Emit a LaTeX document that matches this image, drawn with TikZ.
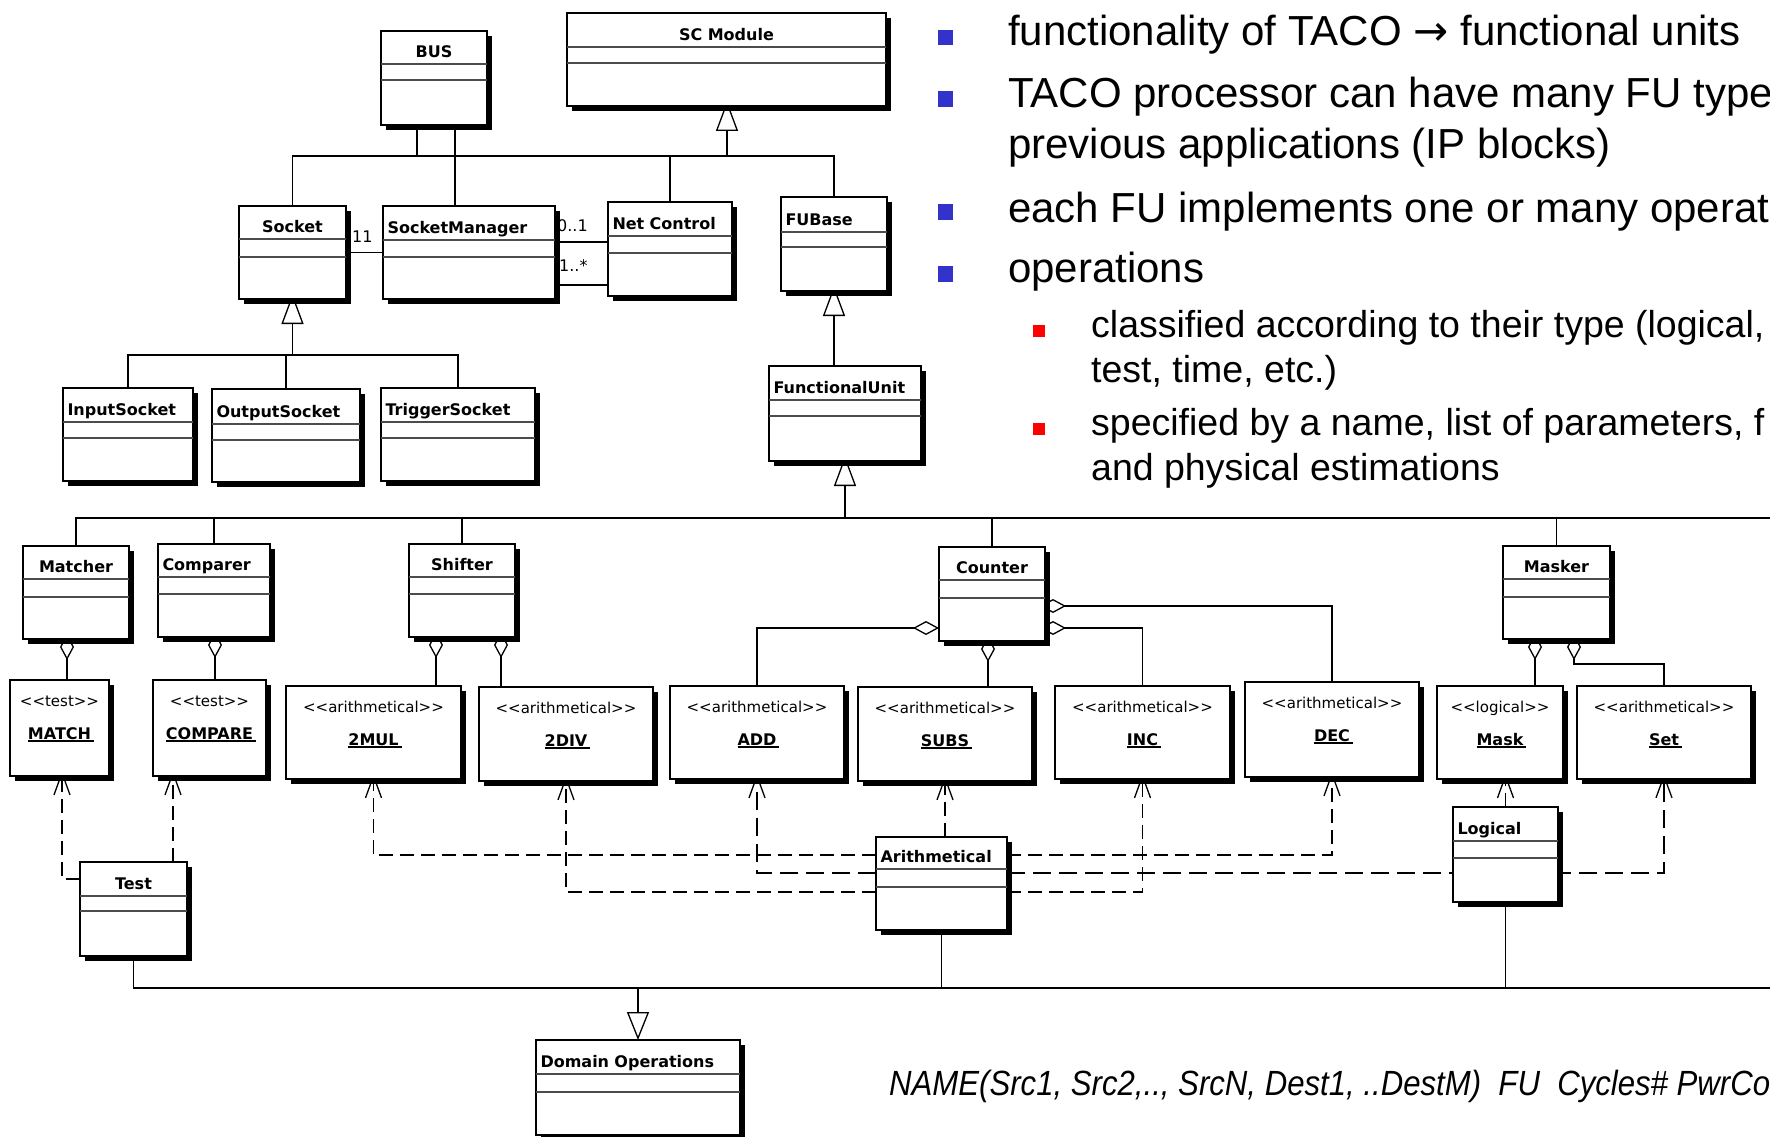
\documentclass[tikz,border=0pt]{standalone}
\usepackage{fontspec}
\setmainfont{Liberation Sans}
\newfontfamily\umlfont{DejaVu Sans}
\newfontfamily\formulafont[FakeStretch=0.89]{Liberation Sans}
\usetikzlibrary{arrows.meta,shadows}
\pgfdeclarelayer{back}
\pgfdeclarelayer{wires}
\pgfsetlayers{back,wires,main}

\definecolor{bulletblue}{RGB}{51,51,204}
\definecolor{bulletred}{RGB}{255,0,0}

% underlined operation name with a thick rule
\newcommand\opul[1]{\setbox0\hbox{#1\kern3pt}\rlap{\rule[-2.5pt]{\wd0}{1.5pt}}\box0}
% stereotype brackets kept as plain << >>
\newcommand\stereo[1]{<\kern0pt<#1>\kern0pt>}

\tikzset{
  cls/.style={draw, line width=1.8pt, fill=white, anchor=north west, inner sep=0pt, outer sep=0pt,
    drop shadow={shadow xshift=5pt, shadow yshift=-5pt, fill=black, opacity=1}},
  divider/.style={line width=1.1pt, black!70},
  clstitle/.style={font=\umlfont\bfseries\fontsize{16}{19}\selectfont, inner sep=0pt, anchor=base},
  stereotext/.style={font=\umlfont\fontsize{15}{18}\selectfont, inner sep=0pt, anchor=base},
  optext/.style={font=\umlfont\bfseries\fontsize{16}{19}\selectfont, inner sep=0pt, anchor=base},
  mult/.style={font=\umlfont\fontsize{16}{19}\selectfont, inner sep=0pt, anchor=base west},
  wire/.style={line width=1.5pt},
  thinwire/.style={line width=1pt},
  gen/.style={wire, -{Triangle[open, length=30pt, width=22pt, line width=1.3pt]}, shorten >=-5pt},
  gendown/.style={wire, -{Triangle[open, length=28pt, width=22pt, line width=1.3pt]}},
  agg/.style={wire, -{Diamond[fill=white, length=26pt, width=14pt, line width=1.3pt]}, shorten >=-5pt},
  aggside/.style={wire, -{Diamond[fill=white, length=26pt, width=14pt, line width=1.3pt]}},
  dep/.style={line width=1.3pt, dash pattern=on 14pt off 7pt,
    -{Straight Barb[length=22pt, width=16pt, line width=1.3pt]}, shorten >=-5pt},
  depbold/.style={dep, line width=2.2pt, dash pattern=on 18pt off 8pt},
  bullettext/.style={font=\fontsize{42}{50}\selectfont, inner sep=0pt, anchor=base west},
  subtext/.style={font=\fontsize{37.5}{45}\selectfont, inner sep=0pt, anchor=base west},
  formula/.style={font=\formulafont\itshape\fontsize{35}{42}\selectfont, inner sep=0pt, anchor=base west},
}

% class box: alignment, name, x1, y1, x2, y2, first divider, second divider, title
\newcommand\umlclass[9]{%
  \pgfmathsetmacro\clsW{#5-#3}%
  \pgfmathsetmacro\clsH{#6-#4}%
  \pgfmathsetmacro\clsT{#5-#3-9}%
  \node[cls, minimum width=\clsW pt, minimum height=\clsH pt] (#2) at (#3,#4) {};
  \draw[divider] (#3,#7) -- (#5,#7) (#3,#8) -- (#5,#8);
  \node[clstitle, text width=\clsT pt, align=#1] (#2-title) at ({(#3+#5)/2},{#7-6.5}) {#9};
}

% operation object: name, x1, y1, x2, y2, stereotype, operation
\newcommand\umlop[7]{%
  \pgfmathsetmacro\clsW{#4-#2}%
  \pgfmathsetmacro\clsH{#5-#3}%
  \node[cls, minimum width=\clsW pt, minimum height=\clsH pt] (#1) at (#2,#3) {};
  \node[stereotext] (#1-st) at ({(#2+#4)/2},{#3+26}) {\stereo{#6}};
  \node[optext] (#1-nm) at ({(#2+#4)/2+1.5},{#3+59}) {\opul{#7}};
}

\begin{document}
\begin{tikzpicture}[x=1pt, y=-1pt]
\useasboundingbox (0,0) rectangle (1770,1137);
\begin{pgfonlayer}{back}
  \fill[white] (0,0) rectangle (1770,1137);
\end{pgfonlayer}
\clip (0,0) rectangle (1770,1137);

% ---------- module / socket hierarchy ----------
\umlclass{center}{bus}{381}{31}{487}{125}{64}{80}{BUS}
\umlclass{center}{scmod}{567}{13}{886}{106}{47}{63}{SC Module}
\umlclass{center}{socket}{239}{206}{346}{299}{239}{257}{Socket}
\umlclass{left}{sockmgr}{383}{206}{555}{299}{240}{257}{SocketManager}
\umlclass{left}{netctl}{608}{202}{732}{296}{236}{253}{Net Control}
\umlclass{left}{fubase}{781}{197}{887}{291}{232}{247}{FUBase}
\umlclass{left}{funit}{769}{366}{921}{461}{400}{416}{FunctionalUnit}
\umlclass{left}{insock}{63}{388}{193}{481}{422}{438}{InputSocket}
\umlclass{left}{outsock}{212}{389}{360}{482}{424}{440}{OutputSocket}
\umlclass{left}{trigsock}{381}{388}{535}{481}{422}{438}{TriggerSocket}

% ---------- functional units ----------
\umlclass{center}{matcher}{23}{546}{129}{639}{579}{597}{Matcher}
\umlclass{left}{comparer}{158}{544}{270}{637}{577}{594}{Comparer}
\umlclass{center}{shifter}{409}{544}{515}{637}{577}{594}{Shifter}
\umlclass{center}{counter}{939}{547}{1045}{641}{580}{598}{Counter}
\umlclass{center}{masker}{1503}{546}{1610}{639}{579}{597}{Masker}

% ---------- operations ----------
\umlop{match}{10}{680}{109}{776}{test}{MATCH}
\umlop{compare}{153}{680}{266}{776}{test}{COMPARE}
\umlop{mul}{286}{686}{461}{779}{arithmetical}{2MUL}
\umlop{div}{479}{687}{653}{781}{arithmetical}{2DIV}
\umlop{add}{670}{686}{844}{779}{arithmetical}{ADD}
\umlop{subs}{858}{687}{1032}{781}{arithmetical}{SUBS}
\umlop{inc}{1055}{686}{1230}{779}{arithmetical}{INC}
\umlop{dec}{1245}{682}{1419}{777}{arithmetical}{DEC}
\umlop{mask}{1437}{686}{1563}{779}{logical}{Mask}
\umlop{set}{1577}{686}{1751}{779}{arithmetical}{Set}

% ---------- operation domains ----------
\umlclass{center}{test}{80}{862}{187}{956}{896}{911}{Test}
\umlclass{left}{arith}{876}{837}{1007}{930}{869}{887}{Arithmetical}
\umlclass{left}{logical}{1453}{807}{1558}{902}{841}{858}{Logical}
\umlclass{left}{domops}{536}{1040}{740}{1135}{1074}{1092}{Domain Operations}

% ---------- multiplicities ----------
\node[mult] (m-sock) at (352,242) {11};
\node[mult] (m-zero) at (557,231) {0..1};
\node[mult] (m-many) at (559,271) {1..*};

% ---------- junction points ----------
\coordinate (hubA) at (727,156);
\coordinate (busL) at ([xshift=-17pt]bus.south);
\coordinate (busR) at ([xshift=21pt]bus.south);
\coordinate (hubS) at (socket.south |- 0,355);
\coordinate (hubF) at (funit.south |- 0,518);
\coordinate (hubFend) at (1775,518);
\coordinate (hubD) at (domops.north |- 0,988);
\coordinate (hubDend) at (1775,988);
\coordinate (setbend) at (1574,664);

\begin{pgfonlayer}{wires}
  % generalisation to SC Module
  \draw[wire] (socket.north) |- (hubA) -| (fubase.north);
  \draw[wire] (netctl.north) |- (hubA);
  \draw[wire] (busL) |- (hubA);
  \draw[wire] (busR) -- (busR |- sockmgr.north);
  \draw[gen] (hubA) -- (hubA |- scmod.south);
  % associations
  \draw[wire] (socket.east) -- (socket.east -| sockmgr.west);
  \draw[wire] (sockmgr.east |- 0,242) -- (netctl.west |- 0,242);
  \draw[wire] (sockmgr.east |- 0,285) -- (netctl.west |- 0,285);
  % socket kinds
  \draw[gen] (hubS) -- (socket.south);
  \draw[wire] (insock.north) |- (hubS) -| (trigsock.north);
  \draw[wire] (outsock.north) -- (outsock.north |- hubS);
  % functional unit chain
  \draw[gen] (fubase.south |- funit.north) -- (fubase.south);
  \draw[gen] (hubF) -- (funit.south);
  \draw[wire] (matcher.north) |- (hubFend);
  \draw[wire] (comparer.north) -- (comparer.north |- hubF);
  \draw[wire] (shifter.north) -- (shifter.north |- hubF);
  \draw[wire] (counter.north) -- (counter.north |- hubF);
  \draw[thinwire] (masker.north) -- (masker.north |- hubF);
  % aggregations
  \draw[agg] (match.north -| 67,0) -- (matcher.south -| 67,0);
  \draw[agg] (compare.north -| 215,0) -- (comparer.south -| 215,0);
  \draw[agg] (mul.north -| 436,0) -- (shifter.south -| 436,0);
  \draw[agg] (div.north -| 501,0) -- (shifter.south -| 501,0);
  \draw[aggside] (add.north) |- (counter.west |- 0,628);
  \draw[agg] (subs.north -| 988,0) -- (counter.south -| 988,0);
  \draw[agg] (inc.north) |- (counter.east |- 0,628);
  \draw[agg] (dec.north) |- (counter.east |- 0,606);
  \draw[agg] (mask.north -| 1535,0) -- (masker.south -| 1535,0);
  \draw[agg] (set.north) |- (setbend) -- (masker.south -| setbend);
  % dependencies
  \draw[dep] (test.west |- 0,879) -| (match.south -| 62,0);
  \draw[dep] (test.north -| 173,0) -- (compare.south -| 173,0);
  \draw[dep] (arith.west |- 0,855) -| (mul.south);
  \draw[dep] (arith.west |- 0,892) -| (div.south);
  \draw[depbold] (arith.west |- 0,873) -| (add.south);
  \draw[dep] (arith.north -| subs.south) -- (subs.south);
  \draw[dep] (arith.east |- 0,892) -| (inc.south);
  \draw[dep] (arith.east |- 0,855) -| (dec.south);
  \draw[depbold] (arith.east |- 0,873) -| (set.south);
  \draw[dep] (logical.north) -- (logical.north |- mask.south);
  % generalisation to Domain Operations
  \draw[gendown] (hubD) -- (domops.north);
  \draw[wire] (test.south) |- (hubDend);
  \draw[wire] (arith.south) -- (arith.south |- hubD);
  \draw[wire] (logical.south) -- (logical.south |- hubD);
\end{pgfonlayer}

% ---------- bullet list ----------
\fill[bulletblue] (938,30) rectangle (953,45);
\fill[bulletblue] (938,91) rectangle (953,107);
\fill[bulletblue] (938,204) rectangle (953,220);
\fill[bulletblue] (938,266) rectangle (953,282);
\fill[bulletred] (1033,325) rectangle (1045,337);
\fill[bulletred] (1033,423) rectangle (1045,435);
\node[bullettext] (l1) at (1008,46) {functionality of TACO {\umlfont →} functional units};
\node[bullettext] (l2) at (1008,108) {TACO processor can have many FU types};
\node[bullettext] (l3) at (1008,158) {previous applications (IP blocks)};
\node[bullettext] (l4) at (1008,222) {each FU implements one or many operat};
\node[bullettext] (l5) at (1008,282) {operations};
\node[subtext] (l6) at (1091,337) {classified according to their type (logical,};
\node[subtext] (l7) at (1091,382) {test, time, etc.)};
\node[subtext] (l8) at (1091,435) {specified by a name, list of parameters, f};
\node[subtext] (l9) at (1091,480) {and physical estimations};

% ---------- operation signature ----------
\node[formula] (sig) at (889,1095) {NAME(Src1, Src2,.., SrcN, Dest1, ..DestM)~~FU~~Cycles\# PwrCo};
\end{tikzpicture}
\end{document}
